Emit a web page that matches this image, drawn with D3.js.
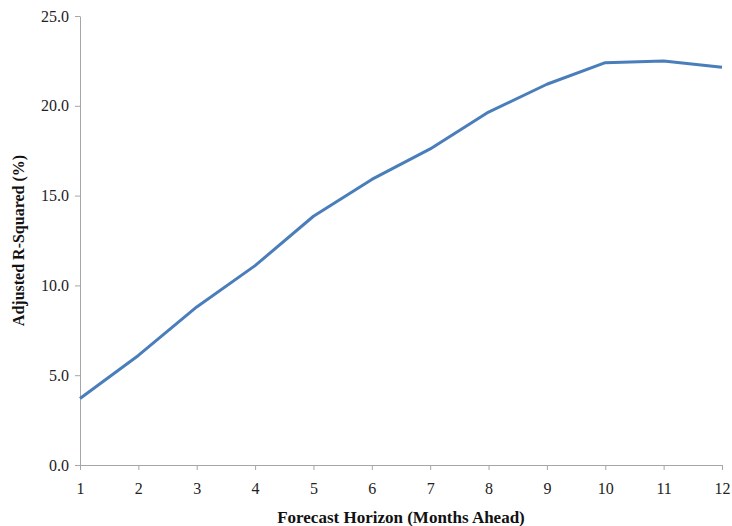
<!DOCTYPE html>
<html>
<head>
<meta charset="utf-8">
<script src="https://cdn.jsdelivr.net/npm/d3@7"></script>
<style>
  body { margin: 0; background: #fff; }
</style>
</head>
<body>
<div id="chart"></div>
<script>
// forecast horizon (months ahead) and adjusted R-squared (%)
const months = [1, 2, 3, 4, 5, 6, 7, 8, 9, 10, 11, 12];
const adjR2 = [3.7, 6.1, 8.8, 11.1, 13.85, 15.9, 17.6, 19.65, 21.2, 22.4, 22.5, 22.15];
const yTicks = [0, 5, 10, 15, 20, 25];

const FONT = "'Liberation Serif', 'Times New Roman', serif";
const W = 732, H = 526;
const margin = {top: 16, right: 10, bottom: 61, left: 80};
const width = 722 - margin.left;
const height = 465 - margin.top;

const svg = d3.select("#chart").append("svg")
    .attr("width", W)
    .attr("height", H);

const g = svg.append("g")
    .attr("transform", `translate(${margin.left}, ${margin.top})`);

const x = d3.scaleLinear().domain([1, 12]).range([0, width]);
const y = d3.scaleLinear().domain([0, 25]).range([height, 0]);

// y axis
const yAxis = g.append("g")
    .call(d3.axisLeft(y).tickValues(yTicks).tickFormat(d3.format(".1f")).tickSize(5).tickSizeOuter(0));
yAxis.select(".domain").attr("stroke", "#a6a6a6");
yAxis.selectAll(".tick line").attr("stroke", "#a6a6a6");
yAxis.selectAll(".tick text")
    .attr("x", -11)
    .style("font-family", FONT)
    .style("font-size", "16px")
    .attr("fill", "#222");

// x axis
const xAxis = g.append("g")
    .attr("transform", `translate(0, ${height})`)
    .call(d3.axisBottom(x).tickValues(months).tickFormat(d3.format("d")).tickSize(5).tickSizeOuter(0));
xAxis.select(".domain").attr("stroke", "#a6a6a6");
xAxis.selectAll(".tick line").attr("stroke", "#a6a6a6");
xAxis.selectAll(".tick text")
    .attr("y", 18)
    .style("font-family", FONT)
    .style("font-size", "16px")
    .attr("fill", "#222");

// the line
const line = d3.line()
    .x((d, i) => x(months[i]))
    .y(d => y(d));

g.append("path")
    .datum(adjR2)
    .attr("fill", "none")
    .attr("stroke", "#4a7ebb")
    .attr("stroke-width", 3)
    .attr("stroke-linejoin", "round")
    .attr("d", line);

// axis titles
svg.append("text")
    .attr("x", margin.left + width / 2)
    .attr("y", 523)
    .attr("text-anchor", "middle")
    .style("font-family", FONT)
    .style("font-size", "17px")
    .style("font-weight", "bold")
    .attr("fill", "#111")
    .text("Forecast Horizon (Months Ahead)");

svg.append("text")
    .attr("transform", `translate(24, ${margin.top + height / 2}) rotate(-90)`)
    .attr("text-anchor", "middle")
    .style("font-family", FONT)
    .style("font-size", "16px")
    .style("font-weight", "bold")
    .attr("fill", "#111")
    .text("Adjusted R-Squared (%)");
</script>
</body>
</html>
